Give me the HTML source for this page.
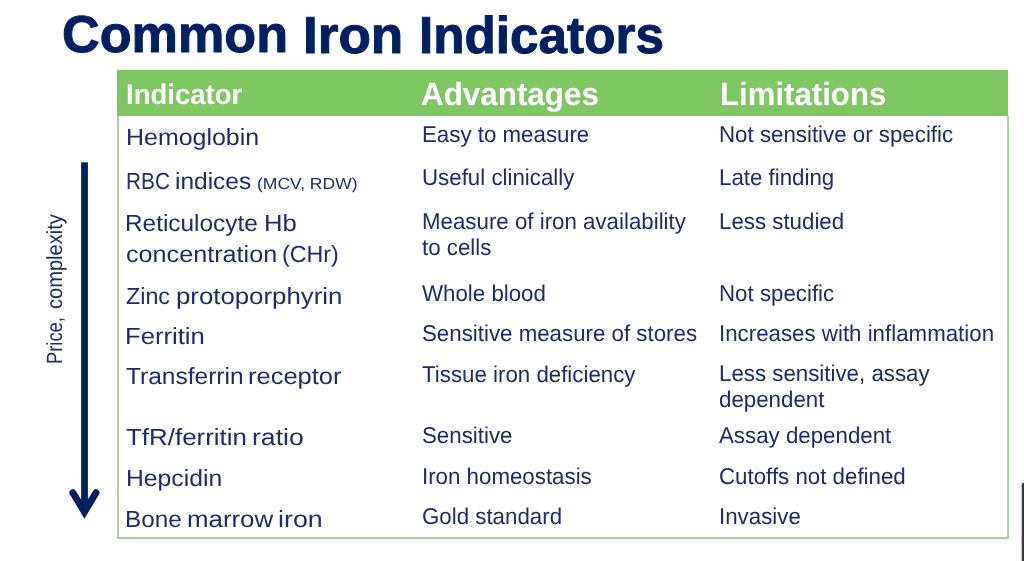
<!DOCTYPE html>
<html lang="en"><head><meta charset="utf-8"><title>Common Iron Indicators</title>
<style>
html,body{margin:0;padding:0;background:#fff;}
body{width:1024px;height:561px;position:relative;overflow:hidden;font-family:"Liberation Sans", Arial, sans-serif;text-rendering:geometricPrecision;}
.t{position:absolute;display:block;white-space:nowrap;line-height:1;transform-origin:0 0;margin:0;}
.hdr{position:absolute;left:117.3px;top:70.2px;width:890.9px;height:45.8px;background:#7ec862;}
.bl{position:absolute;background:#a6d49a;}
h1{font-weight:bold;}
</style></head><body>
<div class="hdr"></div>
<div class="bl" style="left:117.2px;top:116.0px;width:1.7px;height:422.6px;background:#b6cca8"></div>
<div class="bl" style="left:1007.2px;top:116.0px;width:1.7px;height:422.6px;background:#b0d1a9"></div>
<div class="bl" style="left:117.2px;top:536.9px;width:891.7px;height:1.7px"></div>
<h1 style="margin:0;position:absolute;left:0;top:0;width:0;height:0;font-size:16px;-webkit-text-stroke:1.0px #021f64;"><span class="t" id="tw0" style="left:62.27px;top:9.39px;font-size:51.80px;color:#021f64;font-weight:bold;transform:scaleX(1.0072);">Common</span>
<span class="t" id="tw1" style="left:303.22px;top:10.27px;font-size:51.80px;color:#021f64;font-weight:bold;transform:scaleX(1.0251);">Iron</span>
<span class="t" id="tw2" style="left:419.11px;top:10.27px;font-size:51.80px;color:#021f64;font-weight:bold;transform:scaleX(0.9893);">Indicators</span>
</h1>
<div class="t" id="h1c" style="left:125.88px;top:81.19px;font-size:28.50px;color:#ffffff;font-weight:bold;transform:scaleX(0.9656);">Indicator</div>
<div class="t" id="h2c" style="left:421.31px;top:78.06px;font-size:32.20px;color:#ffffff;font-weight:bold;transform:scaleX(0.9750);">Advantages</div>
<div class="t" id="h3c" style="left:719.99px;top:78.14px;font-size:32.20px;color:#ffffff;font-weight:bold;transform:scaleX(0.9686);">Limitations</div>
<div class="cell" id="i0"><span class="t" id="i0w0" style="left:125.60px;top:126.15px;font-size:23.40px;color:#1f2d67;transform:scaleX(1.0667);">Hemoglobin</span></div>
<div class="cell" id="i1"><span class="t" id="i1w0" style="left:125.89px;top:169.60px;font-size:23.40px;color:#1f2d67;transform:scaleX(0.8901);">RBC</span> <span class="t" id="i1w1" style="left:174.69px;top:169.60px;font-size:23.40px;color:#1f2d67;transform:scaleX(1.0464);">indices</span> <span class="t" id="i_small" style="left:257.20px;top:176.54px;font-size:15.90px;color:#1f2d67;transform:scaleX(1.1020);">(MCV, RDW)</span></div>
<div class="cell" id="i2"><span class="t" id="i2w0" style="left:125.26px;top:211.59px;font-size:23.40px;color:#1f2d67;transform:scaleX(1.0426);">Reticulocyte</span> <span class="t" id="i2w1" style="left:263.59px;top:211.59px;font-size:23.40px;color:#1f2d67;transform:scaleX(1.0946);">Hb</span></div>
<div class="cell" id="i3"><span class="t" id="i3w0" style="left:126.36px;top:242.59px;font-size:23.40px;color:#1f2d67;transform:scaleX(1.0762);">concentration</span> <span class="t" id="i3w1" style="left:282.31px;top:242.59px;font-size:23.40px;color:#1f2d67;transform:scaleX(0.9934);">(CHr)</span></div>
<div class="cell" id="i4"><span class="t" id="i4w0" style="left:125.98px;top:284.60px;font-size:23.40px;color:#1f2d67;transform:scaleX(0.9963);">Zinc</span> <span class="t" id="i4w1" style="left:176.15px;top:284.60px;font-size:23.40px;color:#1f2d67;transform:scaleX(1.1025);">protoporphyrin</span></div>
<div class="cell" id="i5"><span class="t" id="i5w0" style="left:125.43px;top:324.83px;font-size:23.40px;color:#1f2d67;transform:scaleX(1.0972);">Ferritin</span></div>
<div class="cell" id="i6"><span class="t" id="i6w0" style="left:126.09px;top:364.59px;font-size:23.40px;color:#1f2d67;transform:scaleX(1.0476);">Transferrin</span> <span class="t" id="i6w1" style="left:248.14px;top:364.59px;font-size:23.40px;color:#1f2d67;transform:scaleX(1.0890);">receptor</span></div>
<div class="cell" id="i7"><span class="t" id="i7w0" style="left:126.07px;top:426.31px;font-size:23.40px;color:#1f2d67;transform:scaleX(1.1078);">TfR/ferritin</span> <span class="t" id="i7w1" style="left:251.96px;top:426.31px;font-size:23.40px;color:#1f2d67;transform:scaleX(1.1368);">ratio</span></div>
<div class="cell" id="i8"><span class="t" id="i8w0" style="left:126.04px;top:466.59px;font-size:23.40px;color:#1f2d67;transform:scaleX(1.0571);">Hepcidin</span></div>
<div class="cell" id="i9"><span class="t" id="i9w0" style="left:125.38px;top:507.60px;font-size:23.40px;color:#1f2d67;transform:scaleX(1.0400);">Bone</span> <span class="t" id="i9w1" style="left:187.26px;top:507.60px;font-size:23.40px;color:#1f2d67;transform:scaleX(1.1051);">marrow</span> <span class="t" id="i9w2" style="left:278.33px;top:507.60px;font-size:23.40px;color:#1f2d67;transform:scaleX(1.1456);">iron</span></div>
<div class="t" id="a0" style="left:422.00px;top:123.36px;font-size:22.90px;color:#1f2d67;transform:scaleX(0.9738);">Easy to measure</div>
<div class="t" id="a1" style="left:422.00px;top:165.76px;font-size:22.90px;color:#1f2d67;transform:scaleX(0.9738);">Useful clinically</div>
<div class="t" id="a2" style="left:422.00px;top:209.76px;font-size:22.90px;color:#1f2d67;transform:scaleX(0.9738);">Measure of iron availability</div>
<div class="t" id="a3" style="left:422.00px;top:235.88px;font-size:22.90px;color:#1f2d67;transform:scaleX(0.9738);">to cells</div>
<div class="t" id="a4" style="left:422.00px;top:281.76px;font-size:22.90px;color:#1f2d67;transform:scaleX(0.9738);">Whole blood</div>
<div class="t" id="a5" style="left:422.00px;top:322.16px;font-size:22.90px;color:#1f2d67;transform:scaleX(0.9738);">Sensitive measure of stores</div>
<div class="t" id="a6" style="left:422.00px;top:362.93px;font-size:22.90px;color:#1f2d67;transform:scaleX(0.9738);">Tissue iron deficiency</div>
<div class="t" id="a7" style="left:422.00px;top:424.16px;font-size:22.90px;color:#1f2d67;transform:scaleX(0.9738);">Sensitive</div>
<div class="t" id="a8" style="left:422.00px;top:464.76px;font-size:22.90px;color:#1f2d67;transform:scaleX(0.9738);">Iron homeostasis</div>
<div class="t" id="a9" style="left:422.00px;top:504.73px;font-size:22.90px;color:#1f2d67;transform:scaleX(0.9738);">Gold standard</div>
<div class="t" id="l0" style="left:719.00px;top:122.76px;font-size:22.90px;color:#1f2d67;transform:scaleX(0.9738);">Not sensitive or specific</div>
<div class="t" id="l1" style="left:719.00px;top:165.76px;font-size:22.90px;color:#1f2d67;transform:scaleX(0.9738);">Late finding</div>
<div class="t" id="l2" style="left:719.00px;top:209.76px;font-size:22.90px;color:#1f2d67;transform:scaleX(0.9738);">Less studied</div>
<div class="t" id="l3" style="left:719.00px;top:281.76px;font-size:22.90px;color:#1f2d67;transform:scaleX(0.9738);">Not specific</div>
<div class="t" id="l4" style="left:719.00px;top:321.76px;font-size:22.90px;color:#1f2d67;transform:scaleX(0.9738);">Increases with inflammation</div>
<div class="t" id="l5" style="left:719.00px;top:361.76px;font-size:22.90px;color:#1f2d67;transform:scaleX(0.9738);">Less sensitive, assay</div>
<div class="t" id="l6" style="left:719.00px;top:387.89px;font-size:22.90px;color:#1f2d67;transform:scaleX(0.9738);">dependent</div>
<div class="t" id="l7" style="left:719.00px;top:423.76px;font-size:22.90px;color:#1f2d67;transform:scaleX(0.9738);">Assay dependent</div>
<div class="t" id="l8" style="left:719.00px;top:464.83px;font-size:22.90px;color:#1f2d67;transform:scaleX(0.9738);">Cutoffs not defined</div>
<div class="t" id="l9" style="left:719.00px;top:504.76px;font-size:22.90px;color:#1f2d67;transform:scaleX(0.9738);">Invasive</div>
<div class="side"><span class="t" style="left:43.58px;top:363.90px;font-size:22.00px;color:#1f2d67;transform:rotate(-90deg) scaleX(0.8344);">Price,</span> <span class="t" style="left:43.58px;top:309.00px;font-size:22.00px;color:#1f2d67;transform:rotate(-90deg) scaleX(0.9120);">complexity</span></div>
<svg width="1024" height="561" style="position:absolute;left:0;top:0" viewBox="0 0 1024 561">
<rect x="81.1" y="162.3" width="6.8" height="345" fill="#021f64"/>
<polyline points="72.9,492.7 84.45,511.9 96.0,492.7" fill="none" stroke="#021f64" stroke-width="7.0" stroke-linecap="round" stroke-linejoin="miter" stroke-miterlimit="10"/>
<defs><linearGradient id="bg1" x1="0" x2="1"><stop offset="0" stop-color="#77777d"/><stop offset="0.35" stop-color="#3a3b42"/><stop offset="1" stop-color="#2f3037"/></linearGradient></defs><path d="M1021.6,561 V485 Q1021.6,482.7 1023.6,482.7 H1024 V561 Z" fill="url(#bg1)"/>
</svg>
</body></html>
